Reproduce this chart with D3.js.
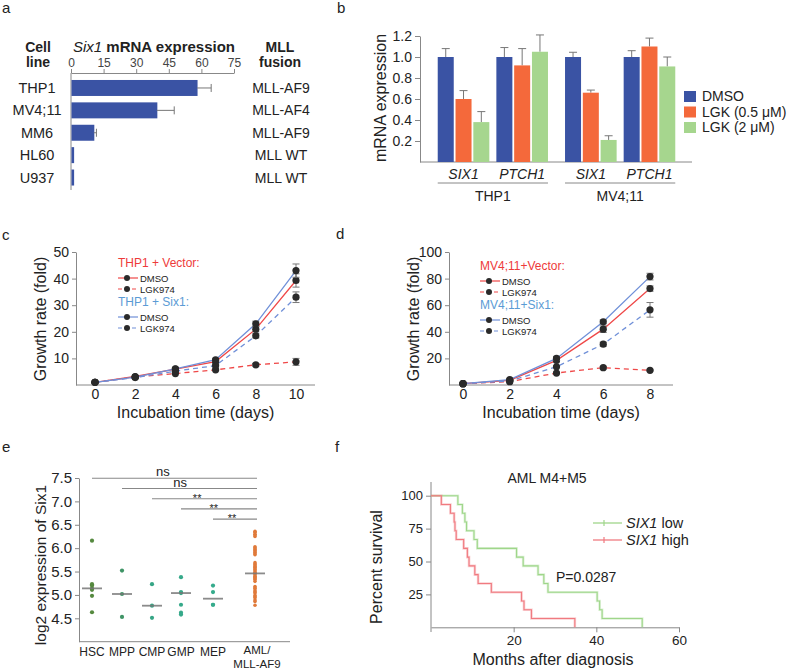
<!DOCTYPE html>
<meta charset="utf-8">
<style>
body { margin: 0; background: #fff; }
text { font-family: "Liberation Sans", Arial, Helvetica, sans-serif; fill: #222; }
.axis path, .axis line { stroke: #888; }
.axis text { font-family: "Liberation Sans", Arial, Helvetica, sans-serif; fill: #222; }
</style>
<body>
<script src="https://d3js.org/d3.v7.min.js"></script>
<script>

// ---- panel a : Six1 expression in cell lines
var cellLines = ["THP1", "MV4;11", "MM6", "HL60", "U937"],
	six1Expr = [58, 39.5, 10.5, 1.2, 1.2],
	six1Err = [6.5, 8, 1.2, 0, 0],
	mllFusion = ["MLL-AF9", "MLL-AF4", "MLL-AF9", "MLL WT", "MLL WT"],
	exprTicks = [0, 15, 30, 45, 60, 75];

// ---- panel b : qPCR after LGK974
var cellGroups = ["THP1", "MV4;11"],
	genes = ["SIX1", "PTCH1"],
	treatments = ["DMSO", "LGK (0.5 \u03bcM)", "LGK (2 \u03bcM)"],
	// rows: THP1 SIX1, THP1 PTCH1, MV4;11 SIX1, MV4;11 PTCH1
	mrnaValues = [[1.0, 0.60, 0.38], [1.0, 0.92, 1.05], [1.0, 0.66, 0.21], [1.0, 1.10, 0.91]],
	mrnaErr = [[0.08, 0.08, 0.10], [0.09, 0.16, 0.16], [0.045, 0.025, 0.04], [0.06, 0.08, 0.09]],
	mrnaTicks = [0.2, 0.4, 0.6, 0.8, 1.0, 1.2];

// ---- panel c : THP1 growth
var daysC = [0, 2, 4, 6, 8, 10],
	thp1VecDmso = [1, 3.2, 6.0, 8.8, 21, 39.3],
	thp1VecDmsoErr = [0, 0, 0.3, 0.5, 1, 2.5],
	thp1VecLgk = [1, 3.0, 4.3, 5.7, 7.6, 8.7],
	thp1VecLgkErr = [0, 0, 0, 0.3, 0.5, 1.3],
	thp1SixDmso = [1, 3.0, 6.1, 9.5, 23, 43],
	thp1SixDmsoErr = [0, 0, 0, 0.5, 1, 2.5],
	thp1SixLgk = [1, 2.8, 5.2, 7.3, 18.5, 33],
	thp1SixLgkErr = [0, 0, 0, 0.5, 0.8, 2],
	growthTicksC = [10, 20, 30, 40, 50];

// ---- panel d : MV4;11 growth
var daysD = [0, 2, 4, 6, 8],
	mvVecDmso = [1, 3.5, 18.5, 42, 72.5],
	mvVecDmsoErr = [0, 0.5, 1, 2.5, 2],
	mvVecLgk = [1, 2.5, 9, 13, 11],
	mvVecLgkErr = [0, 0, 0.5, 1, 0.5],
	mvSixDmso = [1, 4, 20, 47.5, 81.5],
	mvSixDmsoErr = [0, 0.5, 1.5, 1.5, 2.5],
	mvSixLgk = [1, 3, 13.7, 30.7, 56.5],
	mvSixLgkErr = [0, 0, 0.5, 1.5, 5.5],
	growthTicksD = [20, 40, 60, 80, 100];

// ---- panel e : Six1 in sorted populations
var populations = ["HSC", "MPP", "CMP", "GMP", "MEP", "AML"],
	hscExpr = [6.16, 5.23, 5.20, 5.14, 5.11, 4.98, 4.63],
	mppExpr = [5.52, 5.02, 4.53],
	cmpExpr = [5.23, 4.77, 4.51],
	gmpExpr = [5.38, 5.06, 5.04, 4.79, 4.62, 4.58],
	mepExpr = [5.20, 5.06, 4.79, 4.79],
	amlExpr = [6.36, 6.34, 6.30, 6.28, 6.25, 6.03, 6.01, 5.98, 5.96, 5.94, 5.91, 5.88, 5.86,
		5.69, 5.66, 5.64, 5.61, 5.59, 5.56, 5.54, 5.51, 5.48, 5.46, 5.43, 5.40, 5.38, 5.35, 5.33, 5.29,
		5.18, 5.15, 5.13, 5.09, 5.06, 5.04, 4.99, 4.96, 4.94, 4.89, 4.86, 4.78],
	popMedians = [5.14, 5.02, 4.77, 5.04, 4.92, 5.46],
	log2Ticks = [4.5, 5.0, 5.5, 6.0, 6.5, 7.0, 7.5],
	sigFrom = ["HSC", "MPP", "CMP", "GMP", "MEP"],
	sigLabels = ["ns", "ns", "**", "**", "**"];

// ---- panel f : survival AML M4+M5 (event times, months)
var lowTimes = [6.5, 7.6, 8.2, 8.6, 10.4, 11.2, 20.7, 22.3, 25.9, 27.3, 28.3, 40.2, 40.8, 41.4, 51.1],
	highTimes = [2.5, 4.7, 5.6, 5.8, 6.1, 7.9, 8.8, 9.2, 10.6, 11.4, 14.6, 21.9, 22.5, 24.3, 34.8],
	survTicks = [25, 50, 75, 100],
	monthTicks = [20, 40, 60];

var blue = "#3a53a4", orange = "#f4693b", green = "#a6d68e",
	lineRed = "#ef4848", lineBlue = "#7090d8", txtRed = "#ee3a3a", txtBlue = "#5b9bd5",
	errGrey = "#777";

var svg = d3.select("body").append("svg")
	.attr("width", 790)
	.attr("height", 670);

function panelLetter(l, x, y) {
	svg.append("text").attr("x", x).attr("y", y)
		.style("font-size", "15px").text(l);
}
panelLetter("a", 2, 13);
panelLetter("b", 337, 13);
panelLetter("c", 2, 240);
panelLetter("d", 336, 239);
panelLetter("e", 2, 452);
panelLetter("f", 335, 452);

function rotLabel(text, x, y, size) {
	svg.append("text")
		.attr("transform", "translate(" + x + "," + y + ") rotate(-90)")
		.attr("text-anchor", "middle")
		.style("font-size", size + "px")
		.text(text);
}

/* ================= panel a ================= */
var xa = d3.scaleLinear().domain([0, 75]).range([71, 234]),
	ya = d3.scaleBand().domain(cellLines).range([75.5, 190]).paddingInner(0.286).paddingOuter(0.2);

var ga = svg.append("g");

ga.append("text").attr("x", 38).attr("y", 52).attr("text-anchor", "middle")
	.style("font-size", "14px").style("font-weight", "bold").text("Cell");
ga.append("text").attr("x", 38).attr("y", 67).attr("text-anchor", "middle")
	.style("font-size", "14px").style("font-weight", "bold").text("line");
var hdr = ga.append("text").attr("x", 154).attr("y", 52).attr("text-anchor", "middle")
	.style("font-size", "15px");
hdr.append("tspan").style("font-style", "italic").text("Six1 ");
hdr.append("tspan").style("font-weight", "bold").text("mRNA expression");
ga.append("text").attr("x", 280).attr("y", 52).attr("text-anchor", "middle")
	.style("font-size", "14px").style("font-weight", "bold").text("MLL");
ga.append("text").attr("x", 280).attr("y", 67).attr("text-anchor", "middle")
	.style("font-size", "14px").style("font-weight", "bold").text("fusion");

ga.append("g").attr("class", "axis")
	.attr("transform", "translate(0,73)")
	.call(d3.axisTop(xa).tickValues(exprTicks).tickSize(4).tickPadding(2).tickSizeOuter(0))
	.call(function(g) { g.selectAll("text").style("font-size", "12px").style("fill", "#444"); });
ga.append("line").attr("x1", 71).attr("x2", 71).attr("y1", 73).attr("y2", 190)
	.attr("stroke", "#888");

ga.selectAll("rect.bar").data(cellLines).enter().append("rect")
	.attr("class", "bar")
	.attr("x", xa(0) + 0.5)
	.attr("y", function(d) { return ya(d); })
	.attr("width", function(d, i) { return xa(six1Expr[i]) - xa(0); })
	.attr("height", ya.bandwidth())
	.attr("fill", blue);

cellLines.forEach(function(d, i) {
	var cy = ya(d) + ya.bandwidth() / 2;
	if (six1Err[i] > 0) {
		ga.append("line").attr("x1", xa(six1Expr[i])).attr("x2", xa(six1Expr[i] + six1Err[i]))
			.attr("y1", cy).attr("y2", cy).attr("stroke", errGrey);
		ga.append("line").attr("x1", xa(six1Expr[i] + six1Err[i])).attr("x2", xa(six1Expr[i] + six1Err[i]))
			.attr("y1", cy - 4).attr("y2", cy + 4).attr("stroke", errGrey);
	}
	ga.append("text").attr("x", 37).attr("y", cy + 5).attr("text-anchor", "middle")
		.style("font-size", "14.5px").text(d);
	ga.append("text").attr("x", 281).attr("y", cy + 5).attr("text-anchor", "middle")
		.style("font-size", "14px").text(mllFusion[i]);
});

/* ================= panel b ================= */
var yb = d3.scaleLinear().domain([0, 1.2]).range([162, 36]),
	xbOuter = d3.scaleBand().domain(cellGroups).range([425, 688]).paddingInner(0.134).paddingOuter(0.1),
	xbGene = d3.scaleBand().domain(genes).range([0, xbOuter.bandwidth()]).paddingInner(0.12),
	xbTreat = d3.scaleBand().domain(treatments).range([0, xbGene.bandwidth()]).paddingInner(0.1),
	treatColor = d3.scaleOrdinal().domain(treatments).range([blue, orange, green]);

var gb = svg.append("g");
gb.append("g").attr("class", "axis")
	.attr("transform", "translate(420,0)")
	.call(d3.axisLeft(yb).tickValues(mrnaTicks).tickFormat(d3.format(".1f")).tickSize(5).tickSizeOuter(0))
	.call(function(g) { g.selectAll("text").style("font-size", "14px"); });
gb.append("line").attr("x1", 420).attr("x2", 692).attr("y1", 162).attr("y2", 162).attr("stroke", "#888");
rotLabel("mRNA expression", 386, 98, 16);

cellGroups.forEach(function(c, ci) {
	var ox = xbOuter(c);
	genes.forEach(function(gname, gi) {
		var row = ci * 2 + gi, gx = ox + xbGene(gname);
		treatments.forEach(function(t, ti) {
			var v = mrnaValues[row][ti], e = mrnaErr[row][ti],
				bx = gx + xbTreat(t), cx = bx + xbTreat.bandwidth() / 2;
			gb.append("line").attr("x1", cx).attr("x2", cx).attr("y1", yb(v)).attr("y2", yb(v + e))
				.attr("stroke", errGrey);
			gb.append("line").attr("x1", cx - 4).attr("x2", cx + 4).attr("y1", yb(v + e)).attr("y2", yb(v + e))
				.attr("stroke", errGrey);
			gb.append("rect").attr("x", bx).attr("y", yb(v))
				.attr("width", xbTreat.bandwidth()).attr("height", yb(0) - yb(v))
				.attr("fill", treatColor(t));
		});
		gb.append("text").attr("x", gx + xbGene.bandwidth() / 2).attr("y", 179)
			.attr("text-anchor", "middle").style("font-size", "14px").style("font-style", "italic")
			.text(gname);
	});
	gb.append("line").attr("x1", ox).attr("x2", ox + xbOuter.bandwidth())
		.attr("y1", 183).attr("y2", 183).attr("stroke", "#888");
	gb.append("text").attr("x", ox + xbOuter.bandwidth() / 2).attr("y", 201)
		.attr("text-anchor", "middle").style("font-size", "14px").text(c);
});

treatments.forEach(function(t, i) {
	gb.append("rect").attr("x", 684).attr("y", 91 + i * 15.5).attr("width", 12).attr("height", 11)
		.attr("fill", treatColor(t));
	gb.append("text").attr("x", 702).attr("y", 101 + i * 15.5).style("font-size", "14px").text(t);
});

/* ================= panels c and d ================= */
function growthPanel(opt) {
	var g = svg.append("g"),
		x = opt.x, y = opt.y;
	g.append("g").attr("class", "axis")
		.attr("transform", "translate(" + opt.axisX + ",0)")
		.call(d3.axisLeft(y).tickValues(opt.yTicks).tickSize(4).tickSizeOuter(0))
		.call(function(s) { s.selectAll("text").style("font-size", "14px"); });
	g.append("line").attr("x1", opt.axisX).attr("x2", opt.axisEnd)
		.attr("y1", y(0)).attr("y2", y(0)).attr("stroke", "#888");
	g.append("g").attr("class", "axis")
		.attr("transform", "translate(0," + y(0) + ")")
		.call(d3.axisBottom(x).tickValues(opt.days).tickSize(0).tickPadding(4))
		.call(function(s) {
			s.select(".domain").remove();
			s.selectAll("text").style("font-size", "14px");
		});
	g.append("text").attr("x", (opt.axisX + opt.axisEnd) / 2).attr("y", 418)
		.attr("text-anchor", "middle").style("font-size", "16px").text("Incubation time (days)");
	rotLabel("Growth rate (fold)", opt.axisX - 30, 319, 16);

	var line = d3.line().x(function(d, i) { return x(opt.days[i]); }).y(function(d) { return y(d); });
	opt.series.forEach(function(s) {
		g.append("path").datum(s.values)
			.attr("d", line).attr("fill", "none")
			.attr("stroke", s.color).attr("stroke-width", 1.3)
			.attr("stroke-dasharray", s.dashed ? "5,4" : null);
	});
	opt.series.forEach(function(s) {
		s.values.forEach(function(v, i) {
			var e = s.err[i], cx = x(opt.days[i]);
			if (e > 0) {
				g.append("line").attr("x1", cx).attr("x2", cx).attr("y1", y(v - e)).attr("y2", y(v + e))
					.attr("stroke", errGrey);
				[v - e, v + e].forEach(function(w) {
					g.append("line").attr("x1", cx - 3.5).attr("x2", cx + 3.5).attr("y1", y(w)).attr("y2", y(w))
						.attr("stroke", errGrey);
				});
			}
			g.append("circle").attr("cx", cx).attr("cy", y(v)).attr("r", 3.6).attr("fill", "#2a2a2a");
		});
	});

	// legend
	var lx = opt.legendX, ly = opt.legendY;
	[[opt.vecTitle, txtRed, lineRed, 0], [opt.sixTitle, txtBlue, lineBlue, 39]].forEach(function(b) {
		g.append("text").attr("x", lx).attr("y", ly + b[3]).style("font-size", "12px")
			.style("fill", b[1]).text(b[0]);
		["DMSO", "LGK974"].forEach(function(lab, i) {
			var yy = ly + b[3] + 11 + i * 11;
			g.append("line").attr("x1", lx).attr("x2", lx + 20).attr("y1", yy).attr("y2", yy)
				.attr("stroke", b[2]).attr("stroke-width", 1.2)
				.attr("stroke-dasharray", i ? "4,3" : null);
			g.append("circle").attr("cx", lx + 9).attr("cy", yy).attr("r", 3).attr("fill", "#2a2a2a");
			g.append("text").attr("x", lx + 22).attr("y", yy + 3.5).style("font-size", "9.5px").text(lab);
		});
	});
}

growthPanel({
	x: d3.scaleLinear().domain([0, 10]).range([95, 296]),
	y: d3.scaleLinear().domain([0, 50]).range([385, 252]),
	axisX: 76, axisEnd: 315,
	days: daysC, yTicks: growthTicksC,
	legendX: 118, legendY: 267,
	vecTitle: "THP1 + Vector:", sixTitle: "THP1 + Six1:",
	series: [
		{ values: thp1VecDmso, err: thp1VecDmsoErr, color: lineRed, dashed: false },
		{ values: thp1VecLgk, err: thp1VecLgkErr, color: lineRed, dashed: true },
		{ values: thp1SixDmso, err: thp1SixDmsoErr, color: lineBlue, dashed: false },
		{ values: thp1SixLgk, err: thp1SixLgkErr, color: lineBlue, dashed: true }
	]
});

growthPanel({
	x: d3.scaleLinear().domain([0, 8]).range([463, 650]),
	y: d3.scaleLinear().domain([0, 100]).range([385, 252]),
	axisX: 449, axisEnd: 673,
	days: daysD, yTicks: growthTicksD,
	legendX: 480, legendY: 270,
	vecTitle: "MV4;11+Vector:", sixTitle: "MV4;11+Six1:",
	series: [
		{ values: mvVecDmso, err: mvVecDmsoErr, color: lineRed, dashed: false },
		{ values: mvVecLgk, err: mvVecLgkErr, color: lineRed, dashed: true },
		{ values: mvSixDmso, err: mvSixDmsoErr, color: lineBlue, dashed: false },
		{ values: mvSixLgk, err: mvSixLgkErr, color: lineBlue, dashed: true }
	]
});

/* ================= panel e ================= */
var ye = d3.scaleLinear().domain([4, 7.5]).range([641.7, 478]),
	xe = d3.scaleOrdinal().domain(populations).range([92, 122, 152, 181, 213, 255]),
	popColor = d3.scaleOrdinal().domain(populations)
		.range(["#55893f", "#3f9466", "#36a585", "#36a98a", "#36ab8c", "#e07a3a"]),
	popValues = [hscExpr, mppExpr, cmpExpr, gmpExpr, mepExpr, amlExpr];

var ge = svg.append("g");
ge.append("g").attr("class", "axis")
	.attr("transform", "translate(79,0)")
	.call(d3.axisLeft(ye).tickValues(log2Ticks).tickFormat(d3.format(".1f")).tickSize(4).tickSizeOuter(0))
	.call(function(s) { s.selectAll("text").style("font-size", "15px"); });
ge.append("line").attr("x1", 79).attr("x2", 290).attr("y1", 641.7).attr("y2", 641.7).attr("stroke", "#888");
rotLabel("log2 expression of Six1", 46, 565, 15.5);

populations.forEach(function(p, i) {
	ge.selectAll(null).data(popValues[i]).enter().append("circle")
		.attr("cx", xe(p)).attr("cy", function(d) { return ye(d); })
		.attr("r", p === "AML" ? 1.8 : 2.1).attr("fill", popColor(p));
	ge.append("line").attr("x1", xe(p) - 10).attr("x2", xe(p) + 10)
		.attr("y1", ye(popMedians[i])).attr("y2", ye(popMedians[i]))
		.attr("stroke", "#777").attr("stroke-width", 1.8).attr("opacity", 0.85);
	if (p !== "AML") {
		ge.append("text").attr("x", xe(p)).attr("y", 656).attr("text-anchor", "middle")
			.style("font-size", "12px").text(p);
	}
});
ge.append("text").attr("x", xe("AML") + 2).attr("y", 654).attr("text-anchor", "middle")
	.style("font-size", "11.5px").text("AML/");
ge.append("text").attr("x", xe("AML") + 2).attr("y", 668).attr("text-anchor", "middle")
	.style("font-size", "11.5px").text("MLL-AF9");

sigFrom.forEach(function(p, i) {
	var x1 = xe(p), x2 = xe("AML") + 2, ly = 478.3 + i * 10.2;
	ge.append("line").attr("x1", x1).attr("x2", x2).attr("y1", ly).attr("y2", ly)
		.attr("stroke", "#888").attr("stroke-width", 1.1);
	var isNs = sigLabels[i] === "ns";
	ge.append("text").attr("x", x1 + (x2 - x1) * 0.43).attr("y", isNs ? ly - 2 : ly + 3)
		.attr("text-anchor", "middle").style("font-size", isNs ? "13px" : "11px").text(sigLabels[i]);
});

/* ================= panel f ================= */
var xf = d3.scaleLinear().domain([0, 60]).range([431, 679]),
	yf = d3.scaleLinear().domain([0, 100]).range([627.3, 495.7]);

var gf = svg.append("g");
gf.append("text").attr("x", 547).attr("y", 483).attr("text-anchor", "middle")
	.style("font-size", "14px").text("AML M4+M5");
gf.append("g").attr("class", "axis")
	.attr("transform", "translate(431,0)")
	.call(d3.axisLeft(yf).tickValues(survTicks).tickSize(5).tickSizeOuter(0))
	.call(function(s) {
		s.select(".domain").remove();
		s.selectAll("text").style("font-size", "13px");
	});
gf.append("line").attr("x1", 431).attr("x2", 431).attr("y1", 482).attr("y2", 632).attr("stroke", "#888");
gf.append("g").attr("class", "axis")
	.attr("transform", "translate(0,627.3)")
	.call(d3.axisBottom(xf).tickValues(monthTicks).tickSize(5).tickSizeOuter(0))
	.call(function(s) { s.selectAll("text").style("font-size", "13.5px"); });
gf.append("text").attr("x", 553).attr("y", 665).attr("text-anchor", "middle")
	.style("font-size", "16px").text("Months after diagnosis");
rotLabel("Percent survival", 382, 567, 16);

function kmPoints(times) {
	var n = times.length, pts = [[0, 100]];
	times.forEach(function(t, i) { pts.push([t, 100 * (n - i - 1) / n]); });
	return pts;
}
var step = d3.line().curve(d3.curveStepAfter)
	.x(function(d) { return xf(d[0]); }).y(function(d) { return yf(d[1]); });
[[lowTimes, "#9fd68a"], [highTimes, "#f07a80"]].forEach(function(s) {
	gf.append("path").datum(kmPoints(s[0])).attr("d", step).attr("fill", "none")
		.attr("stroke", s[1]).attr("stroke-width", 2.6).attr("opacity", 0.35);
	gf.append("path").datum(kmPoints(s[0])).attr("d", step).attr("fill", "none")
		.attr("stroke", s[1]).attr("stroke-width", 1.1);
});

[["low", "#9fd68a", 523], ["high", "#f07a80", 540]].forEach(function(l) {
	gf.append("line").attr("x1", 593).attr("x2", 622).attr("y1", l[2]).attr("y2", l[2])
		.attr("stroke", l[1]).attr("stroke-width", 1.3);
	gf.append("line").attr("x1", 604).attr("x2", 604).attr("y1", l[2] - 3).attr("y2", l[2] + 3)
		.attr("stroke", l[1]).attr("stroke-width", 1.2);
	var t = gf.append("text").attr("x", 626).attr("y", l[2] + 5).style("font-size", "14.5px");
	t.append("tspan").style("font-style", "italic").text("SIX1");
	t.append("tspan").text(" " + l[0]);
});
gf.append("text").attr("x", 556).attr("y", 582).style("font-size", "14px").text("P=0.0287");

</script>
</body>
</html>
